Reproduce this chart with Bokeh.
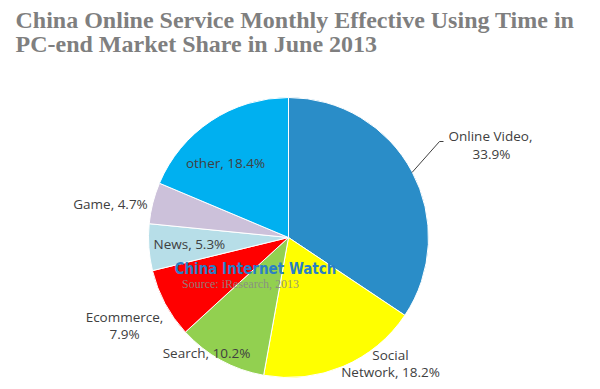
import numpy as np
from bokeh.plotting import figure
from bokeh.models import Range1d, ColumnDataSource
from bokeh.core.properties import value
from bokeh.embed import file_html
from bokeh.resources import INLINE

# ---- data ----
categories = ["Online Video", "Social Network", "Search", "Ecommerce", "News", "Game", "other"]
shares = [33.9, 18.2, 10.2, 7.9, 5.3, 4.7, 18.4]
colors = ["#2A8DC8", "#FFFF00", "#92D050", "#FF0000", "#B7DEE8", "#CCC1DA", "#00B0F0"]
title_lines = ["China Online Service Monthly Effective Using Time in",
               "PC-end Market Share in June 2013"]
watermark = "China Internet Watch"
source_note = "Source: iResearch, 2013"

W, H = 584, 381
H_WIN = 389

def sy(y):  # screen y -> data y
    return H_WIN - y

p = figure(width=W, height=H, output_backend="svg", toolbar_location=None,
           x_range=Range1d(0, W), y_range=Range1d(H_WIN - H, H_WIN),
           min_border=0, outline_line_color=None)
p.axis.visible = False
p.grid.visible = False
p.background_fill_color = "white"

cx, cy, r = 288, sy(237), 140
vals = np.array(shares, dtype=float)
frac = vals / vals.sum()
cum = np.concatenate([[0], np.cumsum(frac)])
start = np.pi / 2 - 2 * np.pi * cum[:-1]
end = np.pi / 2 - 2 * np.pi * cum[1:]
src = ColumnDataSource(dict(start=start, end=end, color=colors, cat=categories))
p.wedge(x=cx, y=cy, radius=r, start_angle="start", end_angle="end", direction="clock",
        fill_color="color", line_color="white", line_width=1, source=src)

# labels
lab_font = value("Open Sans")
lab_color = "#404040"
fs = "13.5px"
def lab(x, y, t, align="center"):
    p.text(x=[x], y=[sy(y)], text=[t], text_font=lab_font, text_font_size=fs,
           text_color=lab_color, text_align=align, text_baseline="middle")

pct = [f"{v:.1f}%" for v in shares]
lab(448, 135, "Online Video,", "left")
lab(491, 153, pct[0])
lab(390, 354, "Social")
lab(390, 371, f"Network, {pct[1]}")
lab(206, 352, f"Search, {pct[2]}")
lab(124, 316, "Ecommerce,")
lab(124, 333, pct[3])
lab(153, 243, f"News, {pct[4]}", "left")
lab(110, 203, f"Game, {pct[5]}")
lab(225, 162, f"{categories[6]}, {pct[6]}")

# leader line for Online Video
p.line(x=[411.5, 439, 443], y=[sy(172), sy(141), sy(141)], line_color="#404040", line_width=1)

# watermark
p.text(x=[255], y=[sy(268)], text=[watermark], text_font=value("DejaVu Sans Condensed"),
       text_font_style="bold", text_font_size="15px", text_color="#2A7FC6",
       text_align="center", text_baseline="middle")
p.text(x=[240], y=[sy(283)], text=[source_note], text_font=value("Liberation Serif"),
       text_font_size="12px", text_color="#888888", text_alpha=0.9,
       text_align="center", text_baseline="middle")

# title
for i, t in enumerate(title_lines):
    p.text(x=[15], y=[sy(19 + 24 * i)], text=[t], text_font=value("Liberation Serif"),
           text_font_style="bold", text_font_size="24px", text_color="#7F7F7F",
           text_align="left", text_baseline="middle")

open("out.html", "w").write(file_html(p, INLINE))
